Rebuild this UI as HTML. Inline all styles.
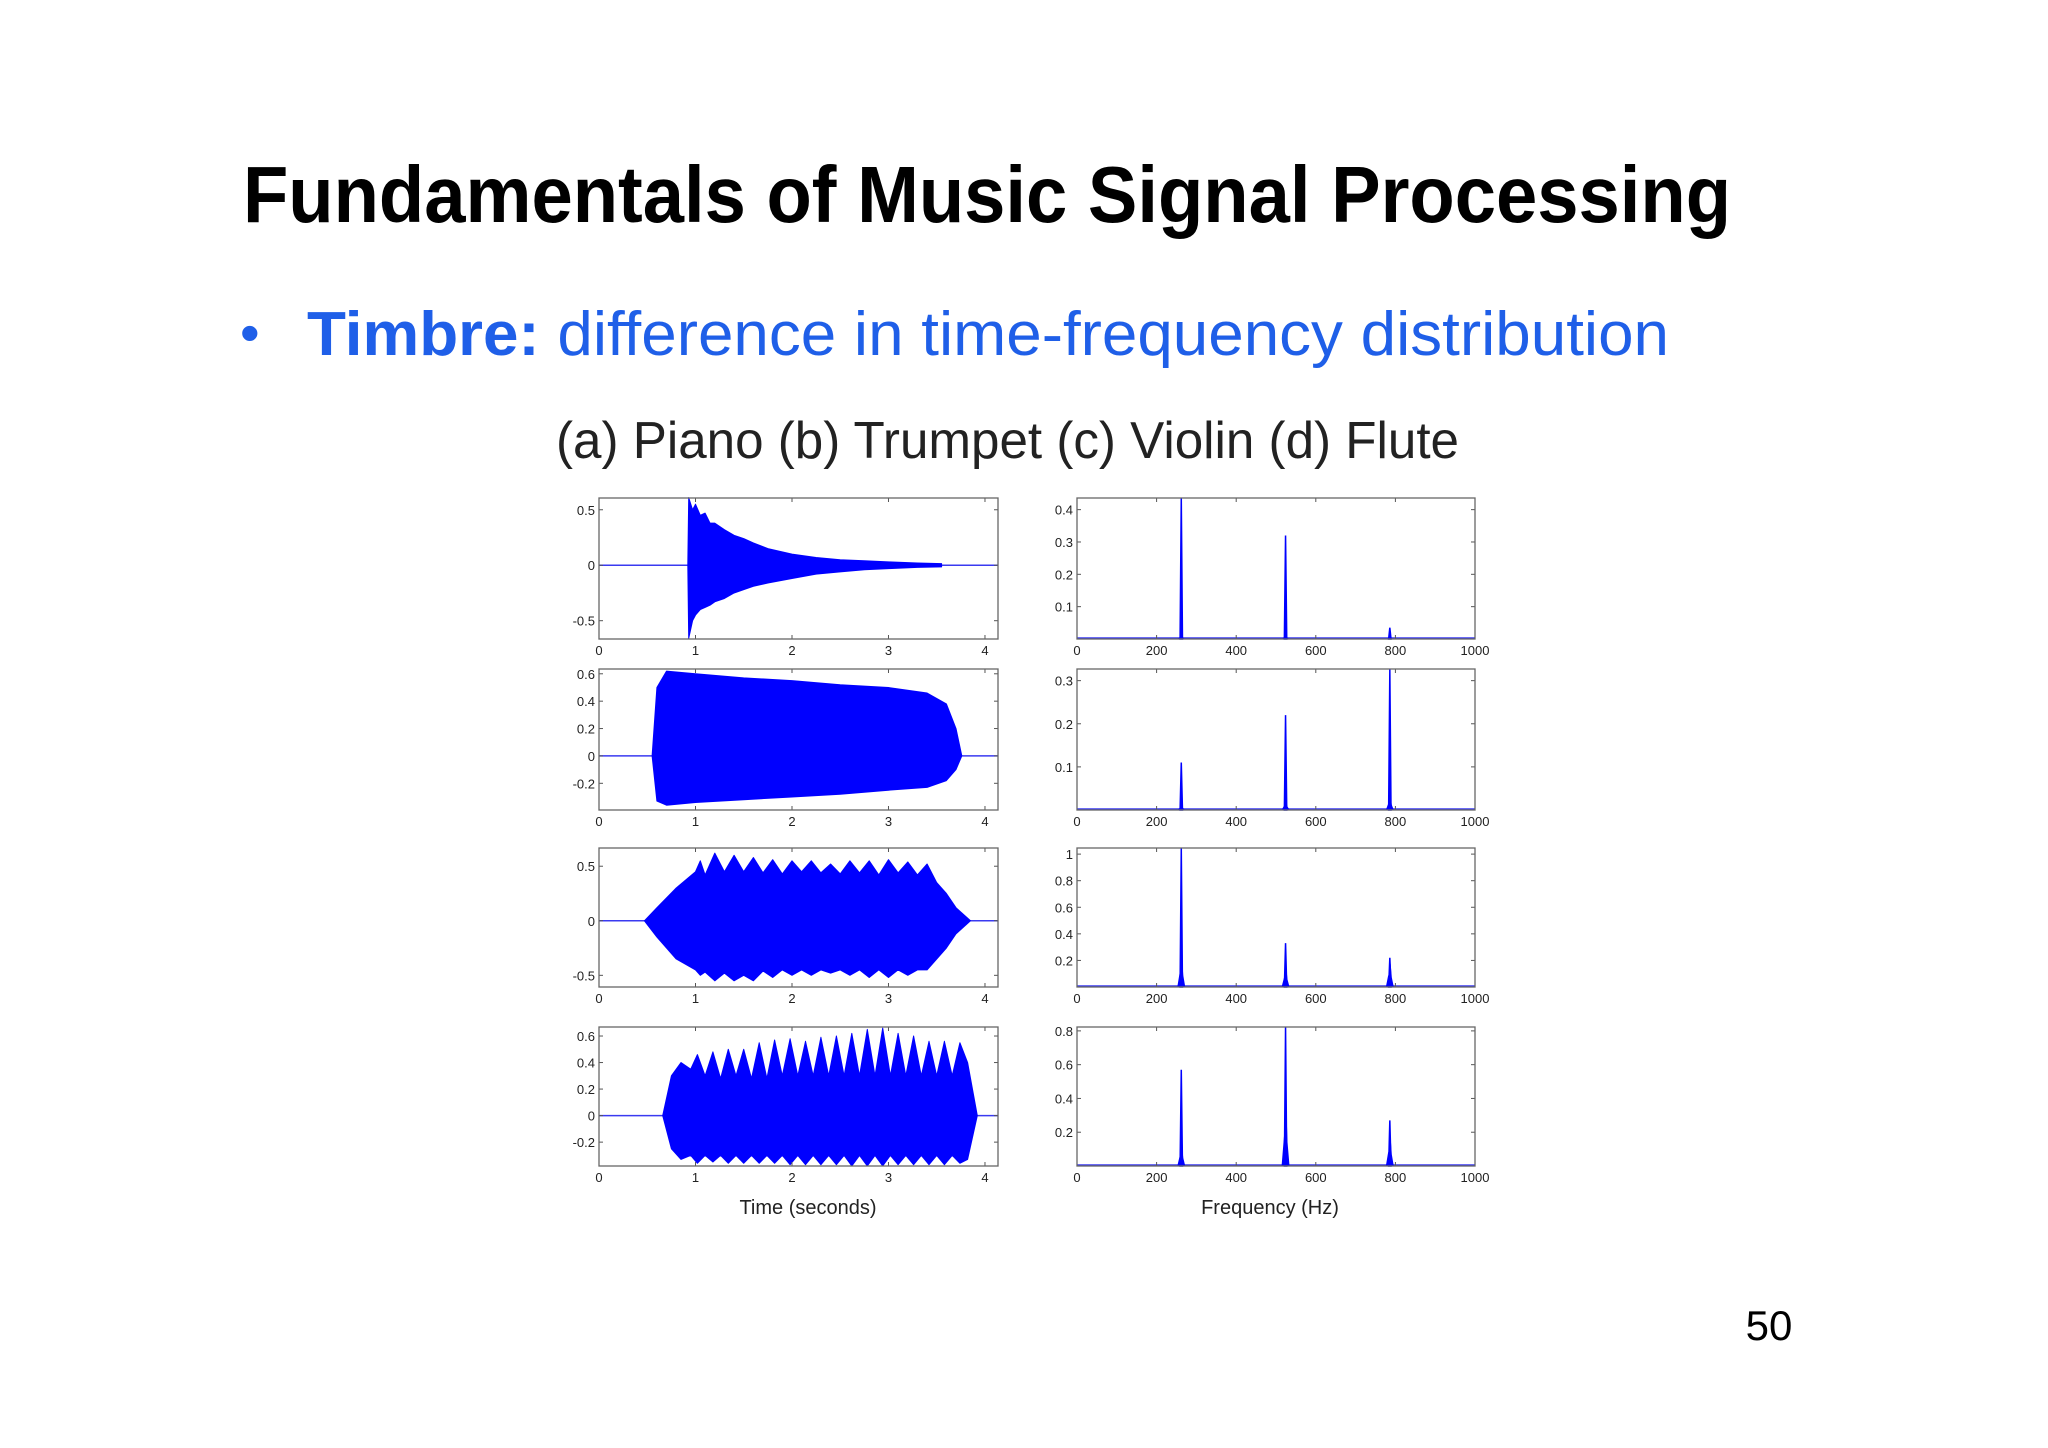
<!DOCTYPE html>
<html><head><meta charset="utf-8">
<style>
html,body{margin:0;padding:0;background:#fff;}
svg{display:block;}
text{font-family:"Liberation Sans",sans-serif;}
</style></head>
<body>
<svg id="slide" width="2048" height="1448" viewBox="0 0 2048 1448" xmlns="http://www.w3.org/2000/svg">
<rect x="0" y="0" width="2048" height="1448" fill="#fff"/>
<text x="243" y="222" font-size="80" font-weight="bold" fill="#000" textLength="1488" lengthAdjust="spacingAndGlyphs">Fundamentals of Music Signal Processing</text>
<text x="240" y="352" font-size="56" fill="#1f5fe8">•</text>
<text x="307" y="355" font-size="62" fill="#1f5fe8" textLength="1362" lengthAdjust="spacingAndGlyphs"><tspan font-weight="bold">Timbre:</tspan> difference in time-frequency distribution</text>
<text x="556" y="458" font-size="52" fill="#222" textLength="903" lengthAdjust="spacingAndGlyphs">(a) Piano (b) Trumpet (c) Violin (d) Flute</text>
<text x="808" y="1214" font-size="20" fill="#222" text-anchor="middle">Time (seconds)</text>
<text x="1270" y="1214" font-size="20" fill="#222" text-anchor="middle">Frequency (Hz)</text>
<text x="1769" y="1340" font-size="42" fill="#000" text-anchor="middle">50</text>
<g id="charts"></g>
</svg>
<script>
// ---- data ----
const timeTicks = [0,1,2,3,4];
const freqTicks = [0,200,400,600,800,1000];
const instruments = ['piano','trumpet','violin','flute'];
// waveform envelopes
const pianoT  = [0.92,0.93,0.97,1.0,1.05,1.1,1.15,1.2,1.3,1.4,1.5,1.6,1.75,2.0,2.25,2.5,2.75,3.0,3.3,3.55];
const pianoUp = [0.0,0.61,0.5,0.55,0.45,0.47,0.38,0.38,0.32,0.27,0.24,0.2,0.15,0.1,0.07,0.05,0.04,0.03,0.02,0.015];
const pianoLo = [0.0,-0.66,-0.5,-0.45,-0.4,-0.38,-0.36,-0.33,-0.3,-0.25,-0.22,-0.19,-0.16,-0.12,-0.08,-0.06,-0.04,-0.03,-0.02,-0.015];
const trumpetT  = [0.55,0.6,0.7,1.0,1.5,2.0,2.5,3.0,3.4,3.6,3.7,3.76];
const trumpetUp = [0.0,0.5,0.62,0.6,0.57,0.55,0.52,0.5,0.46,0.38,0.2,0.0];
const trumpetLo = [0.0,-0.33,-0.36,-0.34,-0.32,-0.3,-0.28,-0.25,-0.23,-0.18,-0.1,0.0];
const violinT  = [0.47,0.6,0.8,1.0,1.05,1.1,1.2,1.3,1.4,1.5,1.6,1.7,1.8,1.9,2.0,2.1,2.2,2.3,2.4,2.5,2.6,2.7,2.8,2.9,3.0,3.1,3.2,3.3,3.4,3.5,3.6,3.7,3.85];
const violinUp = [0,0.12,0.3,0.45,0.55,0.42,0.62,0.45,0.6,0.45,0.58,0.44,0.56,0.43,0.55,0.45,0.55,0.44,0.52,0.43,0.55,0.44,0.55,0.42,0.56,0.44,0.54,0.42,0.52,0.35,0.25,0.12,0];
const violinLo = [0,-0.15,-0.35,-0.45,-0.5,-0.47,-0.55,-0.48,-0.55,-0.5,-0.55,-0.46,-0.52,-0.45,-0.5,-0.45,-0.5,-0.45,-0.48,-0.45,-0.5,-0.45,-0.52,-0.45,-0.52,-0.45,-0.5,-0.45,-0.45,-0.35,-0.25,-0.12,0];
const fluteT  = [0.66,0.75,0.85,0.95,1.02,1.1,1.18,1.26,1.34,1.42,1.5,1.58,1.66,1.74,1.82,1.9,1.98,2.06,2.14,2.22,2.3,2.38,2.46,2.54,2.62,2.7,2.78,2.86,2.94,3.02,3.1,3.18,3.26,3.34,3.42,3.5,3.58,3.66,3.74,3.82,3.92];
const fluteUp = [0,0.3,0.4,0.35,0.46,0.3,0.48,0.28,0.5,0.3,0.5,0.28,0.55,0.28,0.57,0.3,0.58,0.3,0.56,0.3,0.59,0.3,0.6,0.3,0.62,0.3,0.65,0.3,0.66,0.3,0.62,0.3,0.6,0.3,0.56,0.3,0.56,0.3,0.55,0.4,0];
const fluteLo = [0,-0.25,-0.33,-0.3,-0.36,-0.3,-0.35,-0.3,-0.36,-0.3,-0.36,-0.3,-0.36,-0.3,-0.36,-0.3,-0.37,-0.3,-0.37,-0.3,-0.37,-0.3,-0.37,-0.3,-0.38,-0.3,-0.38,-0.3,-0.38,-0.3,-0.37,-0.3,-0.37,-0.3,-0.37,-0.3,-0.37,-0.3,-0.36,-0.33,0];
// spectra: harmonic frequencies, main peak heights, side-lobe heights
const harmonics = [262,524,786];
const pianoPeaks = [0.436,0.32,0.035];
const pianoSide = [0.01,0.01,0.005];
const trumpetPeaks = [0.11,0.22,0.327];
const trumpetSide = [0.01,0.02,0.03];
const violinPeaks = [1.046,0.33,0.22];
const violinSide = [0.22,0.14,0.18];
const flutePeaks = [0.57,0.823,0.27];
const fluteSide = [0.12,0.35,0.17];
// axis ranges & ticks
const waveYMin = [-0.665,-0.395,-0.607,-0.38];
const waveYMax = [0.606,0.635,0.667,0.668];
const specYMax = [0.436,0.327,1.046,0.823];
const waveYTicks = [[-0.5,0,0.5],[-0.2,0,0.2,0.4,0.6],[-0.5,0,0.5],[-0.2,0,0.2,0.4,0.6]];
const specYTicks = [[0.1,0.2,0.3,0.4],[0.1,0.2,0.3],[0.2,0.4,0.6,0.8,1],[0.2,0.4,0.6,0.8]];
const waveT=[pianoT,trumpetT,violinT,fluteT], waveUp=[pianoUp,trumpetUp,violinUp,fluteUp], waveLo=[pianoLo,trumpetLo,violinLo,fluteLo];
const specPeaks=[pianoPeaks,trumpetPeaks,violinPeaks,flutePeaks], specSide=[pianoSide,trumpetSide,violinSide,fluteSide];

// ---- layout ----
const NS='http://www.w3.org/2000/svg';
const rowsTop=[498,669,848,1027], rowsBot=[639,810,987,1166];
const L={x0:599,x1:998,xmax:4.135}, R={x0:1077,x1:1475,xmax:1000};
const g=document.getElementById('charts');
function mk(tag,attrs,parent){const e=document.createElementNS(NS,tag);for(const k in attrs)e.setAttribute(k,attrs[k]);(parent||g).appendChild(e);return e;}

function axes(grp,name,x0,x1,yt,yb,xfun,yfun,xt,yticks){
  for(const v of xt){const x=xfun(v);
    mk('line',{x1:x,x2:x,y1:yb,y2:yb-4,stroke:'#555','stroke-width':1},grp);
    mk('line',{x1:x,x2:x,y1:yt,y2:yt+4,stroke:'#555','stroke-width':1},grp);
    const t=mk('text',{x:x,y:yb+16,'font-size':13,fill:'#222','text-anchor':'middle'},grp);t.textContent=String(v);
    
    
  }
  for(const v of yticks){const y=yfun(v);
    mk('line',{x1:x0,x2:x0+4,y1:y,y2:y,stroke:'#555','stroke-width':1},grp);
    mk('line',{x1:x1,x2:x1-4,y1:y,y2:y,stroke:'#555','stroke-width':1},grp);
    const t=mk('text',{x:x0-4,y:y+5,'font-size':13,fill:'#222','text-anchor':'end'},grp);t.textContent=String(v);
    
    
  }
  const b=mk('rect',{x:x0,y:yt,width:x1-x0,height:yb-yt,fill:'none',stroke:'#666','stroke-width':1.3},grp);
  
  
}

for(let i=0;i<4;i++){
  const yt=rowsTop[i], yb=rowsBot[i];
  const wg=mk('g',{});
  
  
  const xs=t=>L.x0+(t/L.xmax)*(L.x1-L.x0);
  const ys=v=>yb-(v-waveYMin[i])/(waveYMax[i]-waveYMin[i])*(yb-yt);
  const base=mk('line',{x1:L.x0,x2:L.x1,y1:ys(0),y2:ys(0),stroke:'#3a3af0','stroke-width':1.5},wg);
  
  
  const T=waveT[i],U=waveUp[i],D=waveLo[i];
  let pts=[];for(let k=0;k<T.length;k++)pts.push(xs(T[k]).toFixed(1)+','+ys(U[k]).toFixed(1));
  for(let k=T.length-1;k>=0;k--)pts.push(xs(T[k]).toFixed(1)+','+ys(D[k]).toFixed(1));
  const env=mk('polygon',{points:pts.join(' '),fill:'#0000ff',stroke:'#0000ff','stroke-width':1,'stroke-linejoin':'round'},wg);
  
  
  axes(wg,instruments[i]+'-waveform',L.x0,L.x1,yt,yb,xs,ys,timeTicks,waveYTicks[i]);

  const sg=mk('g',{});
  
  
  const fx=f=>R.x0+(f/R.xmax)*(R.x1-R.x0);
  const fy=v=>yb-(v/specYMax[i])*(yb-yt);
  mk('line',{x1:R.x0,x2:R.x1,y1:yb-1,y2:yb-1,stroke:'#3a3af0','stroke-width':1.5},sg);
  for(let h=0;h<harmonics.length;h++){
    const f=harmonics[h];
    const side=specSide[i][h];
    if(side>0){
      const sp=mk('polygon',{points:[fx(f-10)+','+fy(0),fx(f-4)+','+fy(side*0.5),fx(f-1)+','+fy(side*0.3),fx(f+2)+','+fy(side),fx(f+5)+','+fy(side*0.4),fx(f+10)+','+fy(0)].join(' '),fill:'#0000ff'},sg);
      
      
    }
    const pk=mk('polygon',{points:[fx(f-3)+','+fy(0),fx(f)+','+fy(specPeaks[i][h]),fx(f+3)+','+fy(0)].join(' '),fill:'#0000ff',stroke:'#0000ff','stroke-width':1.5},sg);
    
    
  }
  axes(sg,instruments[i]+'-spectrum',R.x0,R.x1,yt,yb,fx,fy,freqTicks,specYTicks[i]);
}
</script>
</body></html>
